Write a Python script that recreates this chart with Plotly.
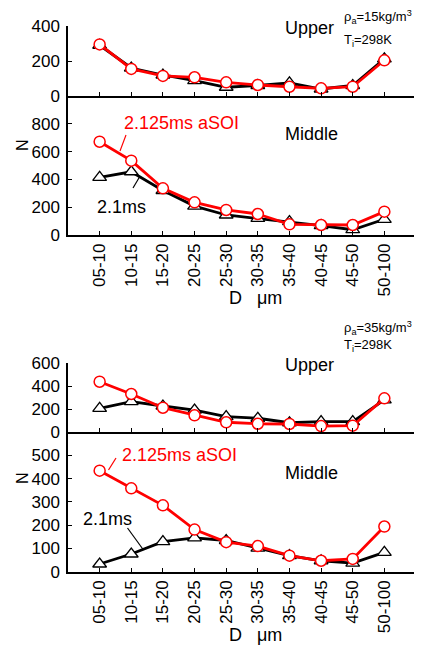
import plotly.graph_objects as go

# ---------------- data ----------------
categories = ["05-10", "10-15", "15-20", "20-25", "25-30", "30-35",
              "35-40", "40-45", "45-50", "50-100"]

# rho_a = 15 kg/m3
upper15_21 = [290, 160, 120, 88, 50, 60, 75, 40, 60, 212]
upper15_2125 = [295, 155, 115, 107, 78, 63, 53, 44, 53, 204]
middle15_21 = [415, 455, 320, 208, 144, 120, 96, 67, 38, 113]
middle15_2125 = [671, 535, 336, 235, 180, 151, 77, 72, 72, 168]

# rho_a = 35 kg/m3
upper35_21 = [207, 265, 227, 192, 134, 120, 81, 90, 90, 280]
upper35_2125 = [439, 332, 212, 146, 85, 72, 70, 52, 55, 294]
middle35_21 = [33, 76, 129, 145, 134, 101, 69, 47, 37, 83]
middle35_2125 = [434, 358, 285, 181, 127, 110, 69, 47, 55, 194]

yticks_p1 = [0, 200, 400]
yticks_p2 = [0, 200, 400, 600, 800]
yticks_p3 = [0, 200, 400, 600]
yticks_p4 = [0, 100, 200, 300, 400, 500]

W, H = 422, 646
OFF = 8  # page body margin
FONT = "Liberation Sans, Arial, sans-serif"
RED = "#ff0000"

def py(p):
    return 1 - (p - OFF) / H

def px(p):
    return (p - OFF) / W

xidx = list(range(len(categories)))

panels = [
    # (black, red, yrange, yticks, top_px, bottom_px, show x labels)
    (upper15_21, upper15_2125, [0, 400], yticks_p1, 26, 96, False),
    (middle15_21, middle15_2125, [0, 1000], yticks_p2, 96, 235, True),
    (upper35_21, upper35_2125, [0, 600], yticks_p3, 363.3, 432, False),
    (middle35_21, middle35_2125, [0, 600], yticks_p4, 432, 571.7, True),
]

fig = go.Figure()
layout = {}
for i, (blk, red, yr, yt, top, bot, showx) in enumerate(panels, start=1):
    xa = "x" if i == 1 else f"x{i}"
    ya = "y" if i == 1 else f"y{i}"
    fig.add_trace(go.Scatter(
        x=xidx, y=blk, xaxis=xa, yaxis=ya, mode="lines+markers",
        line=dict(color="black", width=2.8),
        marker=dict(symbol="triangle-up", size=12, color="white",
                    line=dict(color="black", width=1.3)),
        showlegend=False, cliponaxis=False))
    fig.add_trace(go.Scatter(
        x=xidx, y=red, xaxis=xa, yaxis=ya, mode="lines+markers",
        line=dict(color=RED, width=2.8),
        marker=dict(symbol="circle", size=11, color="white",
                    line=dict(color=RED, width=1.5)),
        showlegend=False, cliponaxis=False))
    xkey = "xaxis" if i == 1 else f"xaxis{i}"
    ykey = "yaxis" if i == 1 else f"yaxis{i}"
    layout[xkey] = dict(
        domain=[px(68), px(416)], anchor=ya, range=[-1, 10],
        tickmode="array", tickvals=list(range(11)),
        ticktext=categories + [""], showticklabels=showx,
        tickangle=-90, ticks="inside", ticklen=4, tickwidth=1.3,
        tickcolor="black", showline=True, linecolor="black", linewidth=1.5,
        showgrid=False, zeroline=False, automargin=False,
        tickfont=dict(family=FONT, size=17, color="black"),
        fixedrange=True)
    layout[ykey] = dict(
        domain=[py(bot), py(top)], anchor=xa, range=yr,
        tickmode="array", tickvals=yt,
        ticks="inside", ticklen=4, tickwidth=1.3, tickcolor="black",
        showline=True, linecolor="black", linewidth=1.5,
        showgrid=False, zeroline=False, automargin=False,
        tickfont=dict(family=FONT, size=17, color="black"),
        ticklabelstandoff=3, fixedrange=True)

fig.update_layout(**layout)

def ann(text, x, y, size=18, color="black", xanchor="left", angle=0):
    return dict(text=text, x=px(x), y=py(y), xref="paper", yref="paper",
                xanchor=xanchor, yanchor="middle", showarrow=False,
                textangle=angle,
                font=dict(family=FONT, size=size, color=color))

annotations = [
    ann("Upper", 283, 28),
    ann("ρ<sub>a</sub>=15kg/m<sup>3</sup>", 342, 17, size=13),
    ann("T<sub>i</sub>=298K", 342, 40, size=13),
    ann("2.125ms aSOI", 122, 123, color=RED),
    ann("Middle", 283, 134),
    ann("2.1ms", 95, 207),
    ann("N", 22, 145, size=16, xanchor="center", angle=-90),
    ann("D   μm", 256, 298, size=18, xanchor="center"),
    ann("ρ<sub>a</sub>=35kg/m<sup>3</sup>", 342, 328, size=13),
    ann("T<sub>i</sub>=298K", 342, 345, size=13),
    ann("Upper", 283, 365),
    ann("2.125ms aSOI", 120, 455, color=RED),
    ann("Middle", 283, 473),
    ann("2.1ms", 81, 519),
    ann("N", 22, 478, size=16, xanchor="center", angle=-90),
    ann("D   μm", 256, 635, size=18, xanchor="center"),
]

def seg(x0, y0, x1, y1, color):
    return dict(type="line", xref="paper", yref="paper",
                x0=px(x0), y0=py(y0), x1=px(x1), y1=py(y1),
                line=dict(color=color, width=1.2))

shapes = [
    seg(126, 135, 120, 151, RED),
    seg(133, 188, 139.5, 177, "black"),
    seg(116, 458, 108.5, 470, RED),
    seg(127.5, 528, 143.5, 550, "black"),
]

fig.update_layout(
    width=W, height=H, margin=dict(l=0, r=0, t=0, b=0, autoexpand=False),
    paper_bgcolor="white", plot_bgcolor="white",
    font=dict(family=FONT, color="black"),
    annotations=annotations, shapes=shapes, showlegend=False)

fig.write_html("out.html")
